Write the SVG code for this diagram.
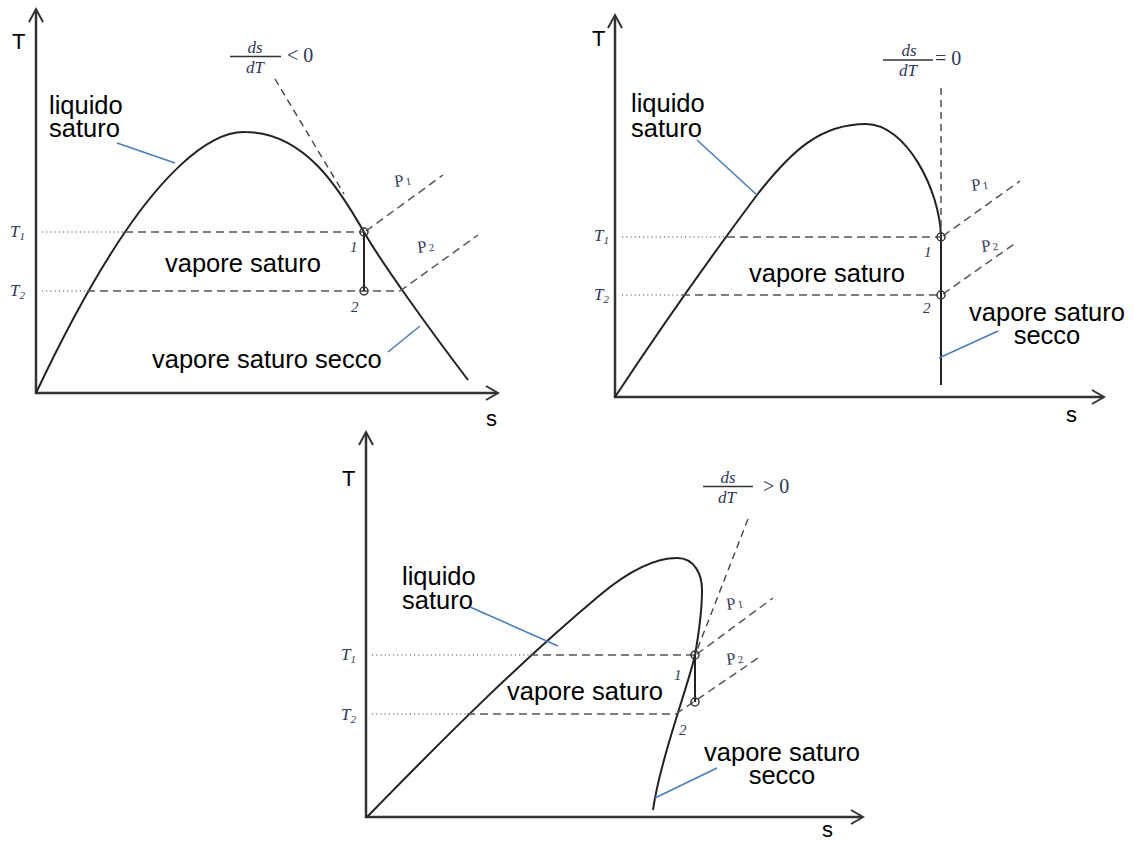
<svg xmlns="http://www.w3.org/2000/svg" width="1134" height="843" viewBox="0 0 1134 843">
<style>
.ax{stroke:#333;stroke-width:2.5;fill:none}
.arr{stroke:#333;stroke-width:2;fill:none;stroke-linejoin:miter}
.cv{stroke:#222;stroke-width:2;fill:none}
.dash{stroke:#555;stroke-width:1.5;stroke-dasharray:8 5;fill:none}
.tan{stroke:#444;stroke-width:1.4;stroke-dasharray:7 5;fill:none}
.dot{stroke:#888;stroke-width:1.3;stroke-dasharray:1.2 3;fill:none}
.lead{stroke:#4a7ebb;stroke-width:1.6;fill:none}
.pt{stroke:#333;stroke-width:1.5;fill:none}
.iso{stroke:#222;stroke-width:2;fill:none}
.lbl{font-family:'Liberation Sans',Arial,sans-serif;font-size:25.5px;fill:#000}
.axl{font-family:'Liberation Sans',Arial,sans-serif;font-size:22px;fill:#000}
.tl{font-family:'Liberation Serif','Times New Roman',serif;font-style:italic;font-size:17px;fill:#2e3658}
.num{font-family:'Liberation Serif','Times New Roman',serif;font-style:italic;font-size:15px;fill:#2e3658}
.pl{font-family:'Liberation Serif','Times New Roman',serif;font-size:17px;fill:#3b3f5c}
.fr{font-family:'Liberation Serif','Times New Roman',serif;font-style:italic;font-size:17px;fill:#2e3658}
.rel{font-family:'Liberation Serif','Times New Roman',serif;font-size:20px;fill:#2e3658}
.frl{stroke:#333;stroke-width:1.3}
</style>

<g id="diagram1">
  <line class="ax" x1="36" y1="394" x2="36" y2="10"/>
  <polyline class="arr" points="29,22 36,9 43,22"/>
  <line class="ax" x1="35" y1="393" x2="497" y2="393"/>
  <polyline class="arr" points="486,386 498,393 486,400"/>
  <text class="axl" x="12" y="49">T</text>
  <text class="axl" x="486" y="426">s</text>
  <path class="cv" d="M36,393 C63,336 91,282 125,232 C155,188 203,131 245,132 C305,132 340,190 364,232 C381,262 430,330 468,380"/>
  <line class="dot" x1="42" y1="232" x2="125" y2="232"/>
  <line class="dash" x1="125" y1="232" x2="364" y2="232"/>
  <line class="dot" x1="42" y1="291" x2="87" y2="291"/>
  <line class="dash" x1="87" y1="291" x2="400" y2="291"/>
  <line class="tan" x1="275" y1="79" x2="344" y2="194"/>
  <line class="dash" x1="366" y1="231" x2="443" y2="175"/>
  <line class="dash" x1="400" y1="291" x2="478" y2="235"/>
  <line class="iso" x1="364" y1="232" x2="364" y2="291"/>
  <circle class="pt" cx="364" cy="232" r="4"/>
  <circle class="pt" cx="364" cy="291" r="4"/>
  <text class="tl" x="10" y="237">T<tspan font-size="11" dy="3">1</tspan></text>
  <text class="tl" x="10" y="296">T<tspan font-size="11" dy="3">2</tspan></text>
  <text class="num" x="350" y="252">1</text>
  <text class="num" x="351" y="312">2</text>
  <text class="pl" x="395" y="187" transform="rotate(-8 395 187)">P<tspan font-size="11" dx="2">1</tspan></text>
  <text class="pl" x="418" y="253" transform="rotate(-8 418 253)">P<tspan font-size="11" dx="2">2</tspan></text>
  <text class="fr" x="255" y="53" text-anchor="middle">ds</text>
  <line class="frl" x1="230" y1="56.5" x2="281" y2="56.5"/>
  <text class="fr" x="255" y="73" text-anchor="middle">dT</text>
  <text class="rel" x="287" y="62">&lt; 0</text>
  <text class="lbl" x="49" y="114">liquido</text>
  <text class="lbl" x="49" y="137">saturo</text>
  <line class="lead" x1="117" y1="143" x2="175" y2="163"/>
  <text class="lbl" x="165" y="272">vapore saturo</text>
  <text class="lbl" x="152" y="368">vapore saturo secco</text>
  <line class="lead" x1="388" y1="352" x2="420" y2="326"/>
</g>

<g id="diagram2">
  <line class="ax" x1="615" y1="398" x2="615" y2="16"/>
  <polyline class="arr" points="608,28 615,15 622,28"/>
  <line class="ax" x1="614" y1="397" x2="1103" y2="397"/>
  <polyline class="arr" points="1092,390 1104,397 1092,404"/>
  <text class="axl" x="592" y="46">T</text>
  <text class="axl" x="1066" y="422">s</text>
  <path class="cv" d="M615,397 C662,326 712,255 757,195 C792,150 821,124 866,124 C906,124 940,190 941,237 L941,385"/>
  <line class="dot" x1="622" y1="237" x2="727" y2="237"/>
  <line class="dash" x1="727" y1="237" x2="941" y2="237"/>
  <line class="dot" x1="622" y1="295" x2="682" y2="295"/>
  <line class="dash" x1="682" y1="295" x2="941" y2="295"/>
  <line class="tan" x1="941" y1="88" x2="941" y2="235"/>
  <line class="dash" x1="943" y1="236" x2="1020" y2="181"/>
  <line class="dash" x1="943" y1="294" x2="1017" y2="242"/>
  <circle class="pt" cx="941" cy="237" r="4"/>
  <circle class="pt" cx="941" cy="295" r="4"/>
  <text class="tl" x="594" y="241">T<tspan font-size="11" dy="3">1</tspan></text>
  <text class="tl" x="594" y="300">T<tspan font-size="11" dy="3">2</tspan></text>
  <text class="num" x="924" y="257">1</text>
  <text class="num" x="923" y="313">2</text>
  <text class="pl" x="972" y="191" transform="rotate(-8 972 191)">P<tspan font-size="11" dx="2">1</tspan></text>
  <text class="pl" x="982" y="252" transform="rotate(-8 982 252)">P<tspan font-size="11" dx="2">2</tspan></text>
  <text class="fr" x="909" y="56" text-anchor="middle">ds</text>
  <line class="frl" x1="883" y1="60" x2="933" y2="60"/>
  <text class="fr" x="908" y="76" text-anchor="middle">dT</text>
  <text class="rel" x="935" y="65">= 0</text>
  <text class="lbl" x="631" y="112">liquido</text>
  <text class="lbl" x="631" y="137">saturo</text>
  <line class="lead" x1="697" y1="140" x2="757" y2="195"/>
  <text class="lbl" x="749" y="282">vapore saturo</text>
  <text class="lbl" x="1047" y="321" text-anchor="middle">vapore saturo</text>
  <text class="lbl" x="1047" y="344" text-anchor="middle">secco</text>
  <line class="lead" x1="998" y1="331" x2="939" y2="358"/>
</g>

<g id="diagram3">
  <line class="ax" x1="366" y1="818" x2="366" y2="433"/>
  <polyline class="arr" points="359,445 366,432 373,445"/>
  <line class="ax" x1="365" y1="817" x2="862" y2="817"/>
  <polyline class="arr" points="851,810 863,817 851,824"/>
  <text class="axl" x="342" y="486">T</text>
  <text class="axl" x="822" y="837">s</text>
  <path class="cv" d="M367,817 C447,735 520,662 600,595 C630,570 655,558 677,558 C695,558 702,575 702,590 C702,610 698,638 695,655 C690,680 660,760 653,810"/>
  <line class="dot" x1="372" y1="655" x2="530" y2="655"/>
  <line class="dash" x1="530" y1="655" x2="695" y2="655"/>
  <line class="dot" x1="372" y1="714" x2="467" y2="714"/>
  <line class="dash" x1="467" y1="714" x2="676" y2="714"/>
  <line class="tan" x1="748" y1="519" x2="692" y2="663"/>
  <line class="dash" x1="697" y1="654" x2="773" y2="598"/>
  <line class="dash" x1="676" y1="714" x2="758" y2="658"/>
  <line class="iso" x1="695" y1="655" x2="695" y2="702"/>
  <circle class="pt" cx="695" cy="655" r="4"/>
  <circle class="pt" cx="695" cy="702" r="4"/>
  <text class="tl" x="341" y="660">T<tspan font-size="11" dy="3">1</tspan></text>
  <text class="tl" x="341" y="720">T<tspan font-size="11" dy="3">2</tspan></text>
  <text class="num" x="674" y="680">1</text>
  <text class="num" x="679" y="735">2</text>
  <text class="pl" x="727" y="610" transform="rotate(-8 727 610)">P<tspan font-size="11" dx="2">1</tspan></text>
  <text class="pl" x="727" y="665" transform="rotate(-8 727 665)">P<tspan font-size="11" dx="2">2</tspan></text>
  <text class="fr" x="728" y="483" text-anchor="middle">ds</text>
  <line class="frl" x1="703" y1="486.5" x2="753" y2="486.5"/>
  <text class="fr" x="727" y="503" text-anchor="middle">dT</text>
  <text class="rel" x="763" y="493">&gt; 0</text>
  <text class="lbl" x="402" y="585">liquido</text>
  <text class="lbl" x="402" y="609">saturo</text>
  <line class="lead" x1="470" y1="607" x2="558" y2="646"/>
  <text class="lbl" x="507" y="700">vapore saturo</text>
  <text class="lbl" x="782" y="761" text-anchor="middle">vapore saturo</text>
  <text class="lbl" x="782" y="784" text-anchor="middle">secco</text>
  <line class="lead" x1="717" y1="768" x2="655" y2="798"/>
</g>
</svg>
